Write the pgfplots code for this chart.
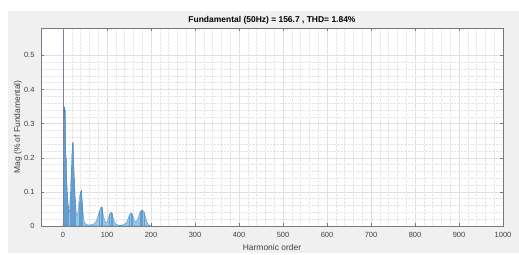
\documentclass[border=0pt]{standalone}
\usepackage{pgfplots}
\pgfplotsset{compat=1.18}
\usepackage{fontspec}
\setmainfont{Liberation Sans}
\definecolor{figbg}{RGB}{240,240,240}
\definecolor{specfill}{RGB}{150,196,232}
\definecolor{specedge}{RGB}{60,125,185}
\definecolor{fundline}{RGB}{120,135,155}
\definecolor{axcol}{RGB}{120,120,120}
\begin{document}
\begin{tikzpicture}[x=1bp,y=1bp]
\fill[white] (0,0) rectangle (519,-253);
\fill[figbg] (8,-11) rectangle (519,-253);
\begin{axis}[
  at={(41bp,-226bp)}, anchor=south west,
  scale only axis, width=462bp, height=198bp,
  xmin=-50, xmax=1000, ymin=0, ymax=0.58,
  xtick={0,100,...,1000}, ytick={0,0.1,0.2,0.3,0.4,0.5},
  xticklabels={0,100,200,300,400,500,600,700,800,900,1000},
  yticklabels={0,0.1,0.2,0.3,0.4,0.5},
  minor x tick num=4, minor y tick num=4,
  minor tick length=0pt, major tick length=3bp,
  tick align=inside,
  axis background/.style={fill=white},
  axis line style={axcol},
  tick style={axcol},
  grid=both,
  major grid style={black!12, line width=0.4pt},
  minor grid style={black!10, densely dotted, line width=0.4pt},
  ticklabel style={font=\fontsize{7.5}{8}\selectfont, text=black!75},
  xticklabel style={yshift=-3bp},
  yticklabel style={xshift=-3bp},
  xlabel={Harmonic order},
  ylabel={Mag (\% of Fundamental)},
  label style={font=\fontsize{8.5}{9}\selectfont, text=black!75},
  xlabel style={at={(axis description cs:0.5,-0.11)}, anchor=center},
  ylabel style={at={(axis description cs:-0.0498,0.5)}, anchor=center},
  every axis title shift=0pt,
  title={Fundamental (50Hz) = 156.7 , THD= 1.84\%},
  title style={at={(axis description cs:0.5,1.0404)}, anchor=center, font=\bfseries\fontsize{8.5}{9}\selectfont},
  clip=true,
]
\addplot[draw=specedge, line width=0.2pt, fill=specfill] coordinates {
(0,0) (1,0.05) (2,0.3) (3,0.35) (4,0.34) (5,0.3) (6,0.25) (7,0.2) (8,0.15) (10,0.1) (12,0.06) (14,0.04)
(15,0.05) (17,0.1) (19,0.18) (21,0.235) (22,0.245) (24,0.2) (26,0.14) (28,0.08) (30,0.04) (32,0.03)
(34,0.04) (36,0.07) (38,0.09) (40,0.1) (42,0.105) (44,0.07) (46,0.035) (48,0.015) (50,0.008) (55,0.004)
(60,0.003) (65,0.004) (70,0.006) (74,0.012) (77,0.02) (80,0.03) (83,0.045) (86,0.055) (88,0.056)
(90,0.045) (92,0.03) (95,0.015) (98,0.01) (100,0.012) (103,0.022) (106,0.035) (109,0.04) (111,0.038)
(114,0.025) (117,0.012) (120,0.006) (125,0.003) (130,0.002) (135,0.003) (140,0.006) (145,0.012)
(148,0.022) (151,0.032) (154,0.038) (157,0.036) (160,0.025) (163,0.015) (166,0.012) (169,0.018)
(172,0.03) (175,0.04) (178,0.046) (181,0.047) (184,0.04) (187,0.028) (190,0.015) (193,0.006)
(196,0.002) (200,0)
} \closedcycle;
\addplot[ycomb, draw=specedge, line width=0.3pt, opacity=0.55] coordinates {
(2,0.3) (3,0.35) (4,0.34) (5,0.3) (6,0.25) (7,0.2) (8,0.15) (10,0.1) (12,0.06)
(17,0.1) (19,0.18) (21,0.235) (22,0.245) (24,0.2) (26,0.14) (28,0.08)
(36,0.07) (38,0.09) (40,0.1) (42,0.105) (44,0.07)
(83,0.045) (86,0.055) (88,0.056) (90,0.045)
(106,0.035) (109,0.04) (111,0.038)
(151,0.032) (154,0.038) (157,0.036)
(175,0.04) (178,0.046) (181,0.047) (184,0.04)
};
\addplot[ycomb, draw=fundline, line width=0.8pt] coordinates {(1,0.6)};
\end{axis}
\end{tikzpicture}
\end{document}
